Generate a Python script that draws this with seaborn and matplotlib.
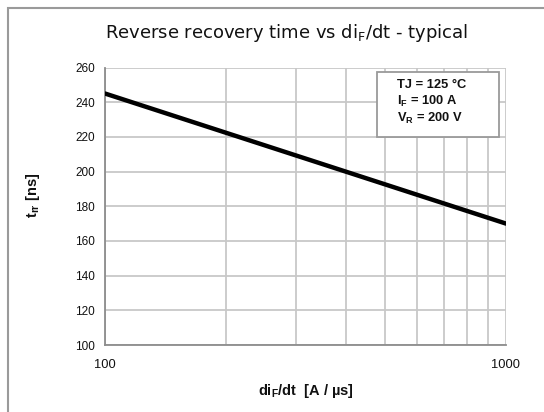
import matplotlib
matplotlib.use("Agg")
import matplotlib.pyplot as plt
import seaborn as sns
import pandas as pd
from matplotlib.patches import Rectangle
from matplotlib.ticker import FixedLocator, NullFormatter

# Data
didt = [100, 1000]
trr = [245, 170]
y_ticks = [100, 120, 140, 160, 180, 200, 220, 240, 260]
x_major = [100, 1000]
x_minor = [200, 300, 400, 500, 600, 700, 800, 900]
title = "Reverse recovery time vs di$_\\mathregular{F}$/dt - typical"
cond_lines = ["TJ = 125 °C", "I$_\\mathbf{F}$ = 100 A", "V$_\\mathbf{R}$ = 200 V"]

sns.set_theme(style="white")
plt.rcParams['font.family'] = ['Liberation Sans', 'DejaVu Sans']
plt.rcParams['mathtext.fontset'] = 'custom'
plt.rcParams['mathtext.rm'] = 'Liberation Sans'
plt.rcParams['mathtext.bf'] = 'Liberation Sans:bold'
plt.rcParams['mathtext.it'] = 'Liberation Sans'

fig = plt.figure(figsize=(5.44, 4.12), dpi=100)
ax = fig.add_axes([105/544, 1-345/412, (506-105)/544, (345-67.5)/412])

# outer frame
fig.patches.append(Rectangle((8/544, -0.1), 1.2, 1 - 8/412 + 0.1, transform=fig.transFigure,
                             fill=False, edgecolor='#9a9a9a', linewidth=1.5))

df = pd.DataFrame({"didt": didt, "trr": trr})
sns.lineplot(data=df, x="didt", y="trr", ax=ax, color='black', linewidth=3.2, zorder=5)

ax.set_xscale('log')
ax.set_xlim(100, 1000)
ax.set_ylim(100, 260)
ax.xaxis.set_major_locator(FixedLocator(x_major))
ax.xaxis.set_minor_locator(FixedLocator(x_minor))
ax.xaxis.set_minor_formatter(NullFormatter())
ax.set_xticklabels([str(v) for v in x_major])
ax.yaxis.set_major_locator(FixedLocator(y_ticks))
ax.set_yticklabels([str(v) for v in y_ticks])

gc = '#c8c8c8'
ax.grid(True, which='major', color=gc, linewidth=1.3)
ax.grid(True, which='minor', axis='x', color=gc, linewidth=1.3)
for s in ['top', 'right']:
    ax.spines[s].set_visible(False)
for s in ['left', 'bottom']:
    ax.spines[s].set_color('#8c8c8c')
    ax.spines[s].set_linewidth(1.3)

ax.tick_params(axis='both', which='major', direction='out', length=4, width=1.2,
               color='#8c8c8c', labelsize=8.5, labelcolor='#111111', pad=3)
ax.tick_params(axis='x', which='minor', length=0)
ax.tick_params(axis='x', which='major', pad=6, labelsize=9.3)

ax.set_xlabel("di$_\\mathbf{F}$/dt  [A / µs]", fontsize=10.5, fontweight='bold', labelpad=8, color='#111111')
ax.set_ylabel("t$_\\mathbf{rr}$ [ns]", fontsize=10.5, fontweight='bold', color='#111111')
ax.yaxis.set_label_coords(-0.158, 0.54)

fig.text(287/544, 1-33/412, title, ha='center', va='center', fontsize=13,
         family=['DejaVu Sans'], color='#111111')

# condition box
box = Rectangle((377/544, 1-137/412), (499-377)/544, (137-72)/412, transform=fig.transFigure,
                facecolor='white', edgecolor='#9a9a9a', linewidth=1.3, zorder=10)
fig.patches.append(box)
ys = [85, 101, 118]
for t, yy in zip(cond_lines, ys):
    fig.text(397/544, 1-yy/412, t, ha='left', va='center', fontsize=9.3, fontweight='bold',
             color='#111111', zorder=11)

fig.savefig("out.png", dpi=100)
